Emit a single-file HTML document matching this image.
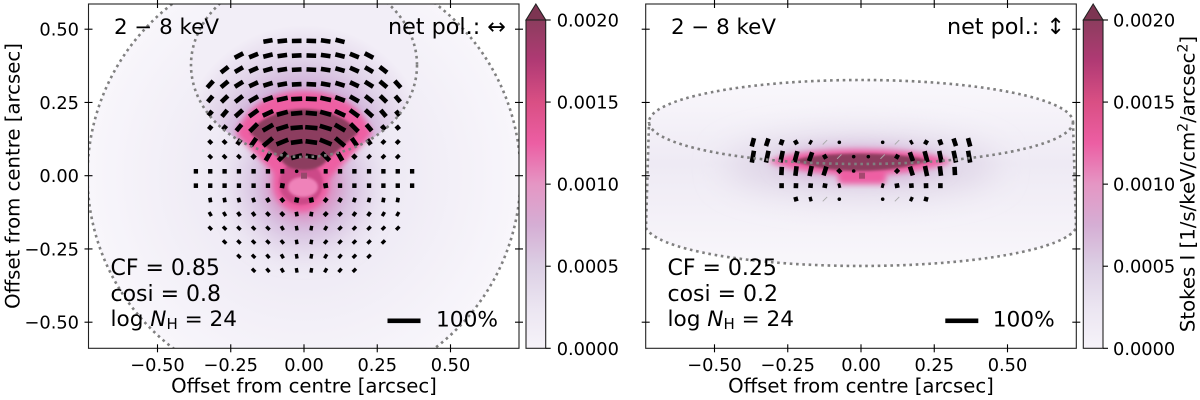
<!DOCTYPE html>
<html lang="en">
<head>
<meta charset="utf-8">
<title>Stokes I maps</title>
<style>
html,body{margin:0;padding:0;background:#fff}
svg{display:block}
text{font-family:"DejaVu Sans","Liberation Sans",sans-serif;fill:#000}
.tk{font-size:17.8px}
.lb{font-size:19.7px}
.an{font-size:22px}
</style>
</head>
<body>
<svg id="fig" xmlns="http://www.w3.org/2000/svg" width="1200" height="400" viewBox="0 0 1200 400">
<defs>
<filter id="b1" x="-30%" y="-30%" width="160%" height="160%"><feGaussianBlur stdDeviation="1.2"/></filter>
<filter id="b3" x="-30%" y="-30%" width="160%" height="160%"><feGaussianBlur stdDeviation="2.8"/></filter>
<filter id="b8" x="-50%" y="-50%" width="200%" height="200%"><feGaussianBlur stdDeviation="8"/></filter>
<filter id="b16" x="-60%" y="-60%" width="220%" height="220%"><feGaussianBlur stdDeviation="16"/></filter>
<clipPath id="clipL"><rect x="88.5" y="4" width="430.5" height="344.3"/></clipPath>
<clipPath id="clipR"><rect x="645.7" y="4" width="430.6" height="344.3"/></clipPath>
<clipPath id="innerL"><ellipse cx="304" cy="65" rx="113" ry="92"/></clipPath>
<clipPath id="hullR"><path d="M649 122A212 42 0 0 1 1073 122L1076 228A216 42 0 0 1 646 228Z"/></clipPath>
<radialGradient id="gOuter" gradientUnits="userSpaceOnUse" cx="304" cy="175.7" r="216.5">
<stop offset="0" stop-color="#e0d6ea"/><stop offset=".45" stop-color="#efebf5"/><stop offset="1" stop-color="#f8f6fb"/>
</radialGradient>
<radialGradient id="gFan" gradientUnits="userSpaceOnUse" cx="304" cy="150" r="125">
<stop offset="0" stop-color="#c9a3d0"/><stop offset=".5" stop-color="#cfaed8"/><stop offset=".72" stop-color="#e0d2e8"/><stop offset="1" stop-color="#f2eef7"/>
</radialGradient>
<linearGradient id="gHull" x1="0" y1="0" x2="0" y2="1">
<stop offset="0" stop-color="#faf8fc"/><stop offset=".45" stop-color="#eeeaf4"/><stop offset="1" stop-color="#f9f7fb"/>
</linearGradient>
<linearGradient id="cbGrad" gradientUnits="userSpaceOnUse" x1="0" y1="348.3" x2="0" y2="20">
<stop offset="0" stop-color="#f6f3f9"/><stop offset=".125" stop-color="#ebe5f1"/><stop offset=".25" stop-color="#dccfe4"/><stop offset=".375" stop-color="#d5aed4"/><stop offset=".5" stop-color="#e596c4"/><stop offset=".625" stop-color="#ec5ea3"/><stop offset=".75" stop-color="#d94f84"/><stop offset=".875" stop-color="#b03a74"/><stop offset="1" stop-color="#8c3d5e"/>
</linearGradient>
</defs>

<rect width="1200" height="400" fill="#fff"/>

<g id="heatL" clip-path="url(#clipL)">
  <circle cx="304" cy="175.7" r="216.5" fill="url(#gOuter)"/>
  <g clip-path="url(#innerL)"><ellipse cx="304" cy="65" rx="113" ry="92" fill="url(#gFan)"/></g>
  <circle cx="304" cy="185" r="58" fill="#d3b8dc" filter="url(#b16)"/>
  <circle cx="304" cy="184" r="36" fill="#dc8fc2" filter="url(#b8)"/>
  <path d="M236 134C248 100 280 91 304 91C328 91 360 100 372 134L330 178H278Z" fill="#ee5fa3" filter="url(#b3)"/>
  <circle cx="301" cy="184" r="28" fill="#ee5fa3" filter="url(#b3)"/>
  <circle cx="301" cy="183" r="22" fill="#cc4a88" filter="url(#b1)"/>
  <ellipse cx="303" cy="187" rx="15" ry="10" fill="#ef82b9" filter="url(#b1)"/>
  <path d="M250 133C258 118 282 109 304 109C326 109 350 118 358 133L327 160C322 168 312 170 304 170C296 170 286 168 281 160Z" fill="#8c3d5e" filter="url(#b1)"/>
  <rect x="301" y="172.7" width="6" height="6" fill="#97486c"/>
</g>

<g id="heatR" clip-path="url(#clipR)">
  <path d="M649 122A212 42 0 0 1 1073 122L1076 228A216 42 0 0 1 646 228Z" fill="url(#gHull)"/>
  <g clip-path="url(#hullR)">
    <ellipse cx="861" cy="166" rx="135" ry="30" fill="#dfd5e7" filter="url(#b16)"/>
    <ellipse cx="861" cy="163" rx="85" ry="17" fill="#d6b6da" filter="url(#b8)"/>
  </g>
  <path d="M768 162C800 145 920 145 952 162C920 172 890 175 861 175C830 175 800 172 768 162Z" fill="#ee5fa3" filter="url(#b3)"/>
  <rect x="838" y="168" width="48" height="16" rx="4" fill="#ee5fa3" filter="url(#b3)"/>
  <path d="M793 161C815 151 905 151 929 161C905 168 885 171 861 171C835 171 815 168 793 161Z" fill="#8c3d5e" filter="url(#b1)"/>
  <rect x="859" y="172.7" width="6" height="6" fill="#a5486f"/>
</g>

<g id="dotsL" clip-path="url(#clipL)" fill="none" stroke="#808080" stroke-width="2.6" stroke-dasharray="2.6 3.7">
  <circle cx="304" cy="175.7" r="216.5"/>
</g>
<g id="quiverL" clip-path="url(#clipL)"></g>
<g clip-path="url(#clipL)" fill="none" stroke="#808080" stroke-width="2.6" stroke-dasharray="2.6 3.7">
  <ellipse cx="304" cy="65" rx="113" ry="92"/>
</g>

<g id="quiverR" clip-path="url(#clipR)"></g>
<g clip-path="url(#clipR)" fill="none" stroke="#808080" stroke-width="2.6" stroke-dasharray="2.6 3.7">
  <ellipse cx="861" cy="122" rx="212" ry="42"/>
  <path d="M1073 122L1076 228A216 42 0 0 1 646 228L649 122"/>
</g>

<g id="axesL"></g>
<g id="axesR"></g>

<g>
  <text class="an" style="font-size:21.4px" x="114" y="34">2 − 8 keV</text>
  <text class="an" style="font-size:22.3px" x="506" y="34" text-anchor="end">net pol.: ↔</text>
  <text class="an" x="110.5" y="275">CF = 0.85</text>
  <text class="an" x="110.5" y="301">cosi = 0.8</text>
  <text class="an" style="font-size:21.6px" x="110.5" y="326">log <tspan font-style="italic">N</tspan><tspan font-size="15" dy="3">H</tspan><tspan dy="-3"> = 24</tspan></text>
  <rect x="387.5" y="318.5" width="33" height="4.6" fill="#000"/>
  <text class="an" style="font-size:21.7px" x="436" y="326.7">100%</text>
</g>
<g>
  <text class="an" style="font-size:21.4px" x="671" y="34">2 − 8 keV</text>
  <text class="an" style="font-size:22.3px" x="1065" y="34" text-anchor="end">net pol.: ↕</text>
  <text class="an" x="667.5" y="275">CF = 0.25</text>
  <text class="an" x="667.5" y="301">cosi = 0.2</text>
  <text class="an" style="font-size:21.6px" x="667.5" y="326">log <tspan font-style="italic">N</tspan><tspan font-size="15" dy="3">H</tspan><tspan dy="-3"> = 24</tspan></text>
  <rect x="945.3" y="318.5" width="33" height="4.6" fill="#000"/>
  <text class="an" style="font-size:21.7px" x="992.7" y="326.7">100%</text>
</g>

<g id="cbL"></g>
<g id="cbR"></g>

<text class="lb" x="304" y="392.5" text-anchor="middle">Offset from centre [arcsec]</text>
<text class="lb" x="861" y="392.5" text-anchor="middle">Offset from centre [arcsec]</text>
<text class="lb" transform="translate(19.5,176) rotate(-90)" text-anchor="middle">Offset from centre [arcsec]</text>
<text class="lb" transform="translate(1194.5,184) rotate(-90)" text-anchor="middle">Stokes I [1/s/keV/cm<tspan font-size="14" dy="-7">2</tspan><tspan dy="7">/arcsec</tspan><tspan font-size="14" dy="-7">2</tspan><tspan dy="7">]</tspan></text>
</svg>

<script>
var xTicks = [-0.5, -0.25, 0, 0.25, 0.5];
var yTicks = [0.5, 0.25, 0, -0.25, -0.5];
var xTickLabels = ["−0.50", "−0.25", "0.00", "0.25", "0.50"];
var yTickLabels = ["0.50", "0.25", "0.00", "−0.25", "−0.50"];
var cbTicks = [0, 0.0005, 0.001, 0.0015, 0.002];
var cbTickLabels = ["0.0000", "0.0005", "0.0010", "0.0015", "0.0020"];
var gridCols = [-0.369, -0.32, -0.271, -0.222, -0.172, -0.123, -0.074, -0.025, 0.025, 0.074, 0.123, 0.172, 0.222, 0.271, 0.32, 0.369];

var leftRowY = [0.46, 0.41, 0.362, 0.312, 0.262, 0.213, 0.164, 0.115, 0.065, 0.015, -0.034, -0.083, -0.131, -0.179, -0.226, -0.275, -0.323];
var leftRowStart = [5, 3, 2, 1, 1, 1, 1, 1, 1, 0, 0, 1, 1, 1, 2, 3, 4];
var leftPol = [
 [28,29,29,29,29,28],
 [29,29,29,29,29,29,29,29,29,29],
 [28,28,29,29,29,29,29,29,29,29,28,28],
 [27,28,29,29,29,29,29,29,29,29,29,29,28,27],
 [23,27,29,31,31,33,33,33,33,31,31,29,27,23],
 [18,25,30,33,34,34,34,34,34,34,33,30,25,18],
 [14,16,25,33,36,37,37,37,37,36,33,25,16,14],
 [12,12,19,28,37,38,35,35,38,37,28,19,12,12],
 [11,11,11,14,28,34,34,34,34,28,14,11,11,11],
 [13,13,13,13,13,13,12,5,0,12,13,13,13,13,13,13],
 [13,13,13,13,13,13,15,0,0,15,13,13,13,13,13,13],
 [11,11,11,11,12,12,15,15,12,12,11,11,11,11],
 [10,10,11,11,11,12,11,11,12,11,11,11,10,10],
 [10,10,10,10,10,10,10,10,10,10,10,10,10,10],
 [10,10,10,10,10,10,10,10,10,10,10,10],
 [10,10,10,10,10,10,10,10,10,10],
 [10,10,10,10,10,10,10,10]
];
var leftAng = [
 [10,6,1,-2,-8,-14],
 [28,22,14,8,3,-2,-8,-14,-22,-28],
 [38,30,24,16,9,3,-3,-9,-16,-24,-30,-38],
 [48,40,32,25,17,10,3,-3,-10,-17,-25,-32,-40,-48],
 [50,44,38,30,20,12,3,-3,-12,-20,-30,-38,-44,-50],
 [50,50,42,36,25,15,5,-5,-15,-25,-36,-42,-50,-50],
 [50,50,50,45,30,17,5,-5,-17,-30,-45,-50,-50,-50],
 [45,45,55,55,40,22,8,-8,-22,-40,-55,-55,-45,-45],
 [45,45,45,45,60,45,15,-10,-45,-60,-45,-45,-45,-45],
 [0,0,0,0,0,0,0,0,0,0,0,0,0,0,0,0],
 [0,0,0,0,0,0,80,0,0,-80,0,0,0,0,0,0],
 [10,10,15,20,30,40,78,-78,-40,-30,-20,-15,-10,-10],
 [30,30,35,35,45,45,10,-10,-45,-45,-35,-35,-30,-30],
 [45,45,45,45,45,30,10,-10,-30,-45,-45,-45,-45,-45],
 [45,45,45,45,40,10,-10,-40,-45,-45,-45,-45],
 [45,45,40,30,10,-10,-30,-40,-45,-45],
 [45,40,30,10,-10,-30,-40,-45]
];

var rightRowY = [0.114, 0.065, 0.016, -0.034, -0.08];
var rightRowStart = [0, 0, 2, 2, 3];
var rightPol = [
 [26,24,17,13,9,1,5,0,0,5,1,9,13,17,24,26],
 [36,36,35,34,28,13,1,5,5,1,13,28,34,35,36,36],
 [25,29,31,28,13,5,0,0,13,28,31,29,25],
 [15,15,14,14,9,0,0,9,14,14,15,15],
 [13,10,1,5,0,0,5,1,10,13]
];
var rightAng = [
 [75,72,70,30,-30,0,0,0,0,0,0,30,-30,-70,-72,-75],
 [80,78,78,75,70,30,0,0,0,0,-30,-70,-75,-78,-78,-80],
 [87,83,78,72,45,0,0,0,-45,-72,-78,-83,-87],
 [90,88,85,80,15,0,0,-15,-80,-85,-88,-90],
 [15,15,0,0,0,0,0,0,-25,-15]
];

var NS = "http://www.w3.org/2000/svg";
var PX_PER_UNIT = 293;
var LEN_PER_PCT = 0.333;
var Y0 = 175.7;
function sy(v){ return Y0 - v * PX_PER_UNIT; }
function sxL(v){ return 304 + v * PX_PER_UNIT; }
function sxR(v){ return 861 + v * PX_PER_UNIT; }
function mk(tag, parent, attrs){
  var el = document.createElementNS(NS, tag);
  for (var k in attrs) el.setAttribute(k, attrs[k]);
  parent.appendChild(el);
  return el;
}

function drawQuiver(parent, sx, rowY, rowStart, pol, ang, prefix){
  for (var r = 0; r < rowY.length; r++){
    for (var c = 0; c < pol[r].length; c++){
      var p = pol[r][c];
      if (p <= 0) continue;
      var cx = sx(gridCols[rowStart[r] + c]);
      var cy = sy(rowY[r]);
      var a = ang[r][c] * Math.PI / 180;
      var el;
      if (p <= 1){
        var dl = 2.2;
        el = mk("line", parent, {x1: cx - dl, y1: cy + dl, x2: cx + dl, y2: cy - dl, stroke: "#aaa", "stroke-width": 0.9});
      } else if (p <= 5){
        el = mk("circle", parent, {cx: cx, cy: cy, r: 1.8, fill: "#000"});
      } else {
        var half = p * LEN_PER_PCT / 2;
        var dx = half * Math.cos(a), dy = half * Math.sin(a);
        el = mk("line", parent, {x1: cx - dx, y1: cy + dy, x2: cx + dx, y2: cy - dy, stroke: "#000", "stroke-width": 4.6});
      }
      
      
    }
  }
}

function drawAxes(parent, sx, left, right, showY, prefix){
  var top = 4, bottom = 348.3;
  var frame = mk("rect", parent, {x: left, y: top, width: right - left, height: bottom - top, fill: "none", stroke: "#222", "stroke-width": 1.1});
  
  
  xTicks.forEach(function(v, i){
    var x = sx(v);
    var t1 = mk("line", parent, {x1: x, x2: x, y1: bottom - 4, y2: bottom + 4, stroke: "#000", "stroke-width": 1.1});
    
    
    var t2 = mk("line", parent, {x1: x, x2: x, y1: top - 4, y2: top + 4, stroke: "#000", "stroke-width": 1.1});
    
    
    var lab = mk("text", parent, {x: x, y: 371, "text-anchor": "middle", "class": "tk"});
    lab.textContent = xTickLabels[i];
    
    
  });
  yTicks.forEach(function(v, i){
    var y = sy(v);
    var t1 = mk("line", parent, {x1: left - 4, x2: left + 4, y1: y, y2: y, stroke: "#000", "stroke-width": 1.1});
    
    
    var t2 = mk("line", parent, {x1: right - 4, x2: right + 4, y1: y, y2: y, stroke: "#000", "stroke-width": 1.1});
    
    
    if (showY){
      var lab = mk("text", parent, {x: 79, y: y + 6.5, "text-anchor": "end", "class": "tk"});
      lab.textContent = yTickLabels[i];
      
      
    }
  });
}

function cbY(v){ return 348.3 - (v / 0.002) * 328.3; }
function drawColorbar(parent, x0, x1, labelX, prefix){
  var mid = (x0 + x1) / 2;
  var tip = mk("path", parent, {d: "M" + x0 + " 20L" + mid + " 4L" + x1 + " 20Z", fill: "#7d3552", stroke: "#222", "stroke-width": 1.1});
  
  
  var bar = mk("rect", parent, {x: x0, y: 20, width: x1 - x0, height: 328.3, fill: "url(#cbGrad)", stroke: "#222", "stroke-width": 1.1});
  
  
  cbTicks.forEach(function(v, i){
    var y = cbY(v);
    var t = mk("line", parent, {x1: x1, x2: x1 + 5, y1: y, y2: y, stroke: "#000", "stroke-width": 1.1});
    
    
    var lab = mk("text", parent, {x: labelX, y: y + 6.5, "class": "tk"});
    lab.textContent = cbTickLabels[i];
    
    
  });
}

drawQuiver(document.getElementById("quiverL"), sxL, leftRowY, leftRowStart, leftPol, leftAng, "left");
drawQuiver(document.getElementById("quiverR"), sxR, rightRowY, rightRowStart, rightPol, rightAng, "right");
drawAxes(document.getElementById("axesL"), sxL, 88.5, 519, true, "left");
drawAxes(document.getElementById("axesR"), sxR, 645.7, 1076.3, false, "right");
drawColorbar(document.getElementById("cbL"), 526, 545.7, 556.7, "left");
drawColorbar(document.getElementById("cbR"), 1083.3, 1103, 1113, "right");
</script>
</body>
</html>
